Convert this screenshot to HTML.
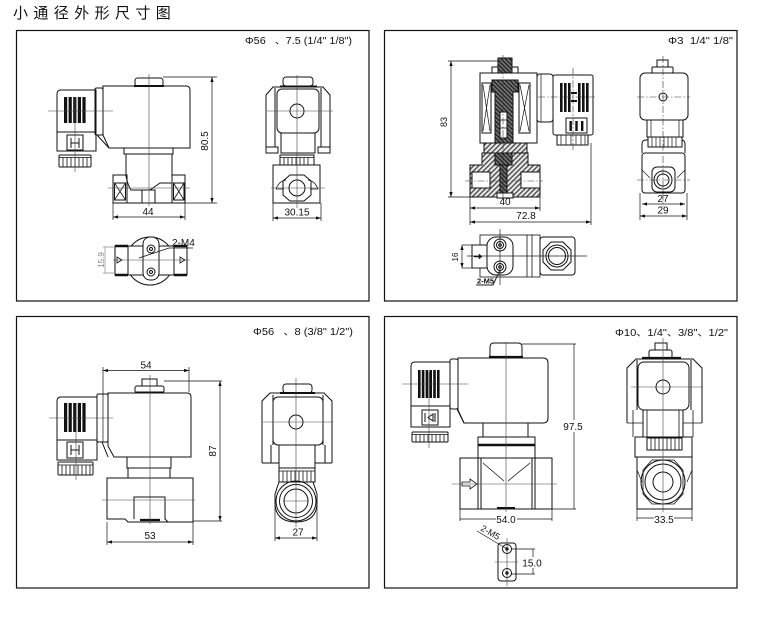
<!DOCTYPE html>
<html><head><meta charset="utf-8">
<style>
html,body{margin:0;padding:0;background:#fff;}
svg{display:block}
text{font-family:"Liberation Sans","Noto Sans CJK SC",sans-serif;fill:#111;stroke:none}
</style></head><body>
<svg width="762" height="621" viewBox="0 0 762 621" xmlns="http://www.w3.org/2000/svg" font-family="'Liberation Sans','Noto Sans CJK SC',sans-serif">
<defs>
<pattern id="hat" width="3.5" height="3.5" patternUnits="userSpaceOnUse" patternTransform="rotate(45)"><rect width="3.5" height="3.5" fill="#e8e8e8"/><rect width="1.3" height="3.5" fill="#444"/></pattern>
<pattern id="hat2" width="3" height="3" patternUnits="userSpaceOnUse" patternTransform="rotate(-45)"><rect width="3" height="3" fill="#777"/><rect width="1.4" height="3" fill="#222"/></pattern>
<marker id="ar" viewBox="0 0 6 4" refX="6" refY="2" markerWidth="5" markerHeight="3.4" orient="auto-start-reverse" markerUnits="userSpaceOnUse"><path d="M0,0L6,2L0,4Z" fill="#111"/></marker>
</defs>

<text x="13" y="18" font-size="15" letter-spacing="5.4" font-family="'Liberation Sans','Noto Sans CJK SC',sans-serif">小通径外形尺寸图</text>

<g fill="none" stroke="#111" stroke-width="1">
<!-- panel borders -->
<rect x="16.5" y="30.5" width="352.5" height="270.5" stroke-width="1.2"/>
<rect x="384.5" y="30.5" width="352.5" height="270.5" stroke-width="1.2"/>
<rect x="16.5" y="316.5" width="352.5" height="271.5" stroke-width="1.2"/>
<rect x="384.5" y="316.5" width="352.5" height="271.5" stroke-width="1.2"/>

<!-- ================= TOP-LEFT ================= -->
<rect x="135" y="78" width="28" height="8" rx="2.5"/>
<line x1="134" y1="86" x2="164" y2="86" stroke-width="2"/>
<path d="M103,86H186Q190,86 190,90V148H109L103,135Z"/>
<rect x="95" y="88" width="8" height="47" rx="1.5"/>
<line x1="97" y1="135" x2="109" y2="148"/>
<path d="M96,90H61Q57,90 57,94V151H96Z"/>
<line x1="57" y1="132" x2="96" y2="132"/>
<g fill="#111" stroke="none">
<rect x="64" y="97" width="3.2" height="26"/><rect x="68.6" y="97" width="3.2" height="26"/><rect x="73.2" y="97" width="3.2" height="26"/><rect x="77.8" y="97" width="3.2" height="26"/><rect x="82.4" y="97" width="3.2" height="26"/>
</g>
<rect x="67" y="135" width="16" height="15"/>
<path d="M71,138V148M79,138V148M71,143H79"/>
<rect x="59" y="155" width="32" height="12" rx="1"/>
<path d="M59,157.5H91M63,157.5V167M67,157.5V167M71,157.5V167M75,157.5V167M79,157.5V167M83,157.5V167M87,157.5V167" stroke-width="0.8"/>
<rect x="124" y="148" width="49" height="6"/>
<path d="M126,154V176Q128,186 131,190H142M172,154V183H160L150,190"/>
<rect x="113" y="175" width="14" height="28"/>
<rect x="172" y="175" width="13" height="28"/>
<rect x="114.5" y="183" width="11" height="17"/>
<path d="M114.5,183L125.5,200M125.5,183L114.5,200" stroke-width="0.8"/>
<rect x="173.5" y="183" width="10.5" height="17"/>
<path d="M173.5,183L184,200M184,183L173.5,200" stroke-width="0.8"/>
<line x1="127" y1="203" x2="172" y2="203"/>
<path d="M142,203V190H155V203"/>
<g stroke="#444" stroke-width="0.6">
<line x1="149" y1="74" x2="149" y2="206"/>
<line x1="108" y1="188" x2="190" y2="188"/>
<line x1="48" y1="111" x2="113" y2="111"/>
<line x1="75" y1="97" x2="75" y2="172"/>
</g>
<g stroke-width="0.7">
<path d="M163,77H217M185,203H217M113,203V220M185,203V220"/>
<line x1="212" y1="77" x2="212" y2="203" marker-start="url(#ar)" marker-end="url(#ar)"/>
<line x1="113" y1="217" x2="185" y2="217" marker-start="url(#ar)" marker-end="url(#ar)"/>
</g>
<text x="208" y="141" font-size="10" text-anchor="middle" transform="rotate(-90 208 141)">80.5</text>
<text x="148" y="215" font-size="10" text-anchor="middle">44</text>

<!-- side view -->
<rect x="283" y="77" width="30" height="9" rx="3"/>
<line x1="280" y1="86.5" x2="317" y2="86.5" stroke-width="2"/>
<path d="M266,147V95L273,87H323L330,95V147"/>
<path d="M275,88V147M321,88V147"/>
<rect x="277" y="89" width="42" height="44" rx="5"/>
<circle cx="297" cy="111" r="7"/>
<rect x="281" y="133" width="34" height="20"/>
<rect x="266" y="147" width="12" height="6"/>
<rect x="318" y="147" width="12" height="6"/>
<rect x="280" y="155" width="34" height="10"/>
<path d="M280,157.5H314M284,157.5V165M288,157.5V165M292,157.5V165M296,157.5V165M300,157.5V165M304,157.5V165M308,157.5V165" stroke-width="0.8"/>
<rect x="273" y="165" width="47" height="38"/>
<path d="M290,175H304L311,181V195L304,201H290L283,195V181Z"/>
<circle cx="297" cy="188" r="8"/>
<path d="M276,189Q279,181 286,180M318,189Q315,181 308,180M276,189H284M310,189H318" stroke-width="0.8"/>
<g stroke="#444" stroke-width="0.6">
<line x1="297" y1="75" x2="297" y2="208"/>
<line x1="267" y1="111" x2="333" y2="111"/>
<line x1="271" y1="188" x2="325" y2="188"/>
</g>
<g stroke-width="0.7">
<path d="M273,203V221M321,203V221"/>
<line x1="273" y1="218" x2="321" y2="218" marker-start="url(#ar)" marker-end="url(#ar)"/>
</g>
<text x="297" y="215.5" font-size="10" text-anchor="middle">30.15</text>

<!-- bottom view -->
<circle cx="150" cy="261" r="24"/>
<rect x="115" y="246" width="72" height="29" fill="#fff"/>
<path d="M115,246H128M115,275H128M174,246H187M174,275H187" stroke-width="2.4"/>
<path d="M128,246V275M174,246V275"/>
<rect x="143" y="237" width="16" height="43" rx="7" fill="#fff"/>
<circle cx="151" cy="249" r="4"/><circle cx="151" cy="249" r="1.5"/>
<circle cx="151" cy="272" r="4"/><circle cx="151" cy="272" r="1.5"/>
<path d="M117,257L122,260L117,263Z M180,257L185,260L180,263Z" stroke-width="0.8"/>
<line x1="113" y1="260" x2="190" y2="260" stroke="#444" stroke-width="0.6"/>
<path d="M139,258L169,248H193" stroke-width="0.8"/>
<g stroke="#888" stroke-width="0.7">
<path d="M103,247H115M103,273H115"/>
<line x1="105" y1="247" x2="105" y2="273"/>
</g>
<text x="172" y="246" font-size="10">2-M4</text>
<text x="104" y="260" font-size="8" text-anchor="middle" style="fill:#888" transform="rotate(-90 104 260)">15.9</text>

<text x="245" y="44" font-size="10" textLength="107" lengthAdjust="spacingAndGlyphs" xml:space="preserve">Φ56   、7.5 (1/4" 1/8")</text>

<!-- ================= TOP-RIGHT ================= -->
<text x="668" y="44" font-size="10" textLength="65" lengthAdjust="spacingAndGlyphs" xml:space="preserve">Φ3  1/4" 1/8"</text>
<rect x="492" y="67" width="26" height="6" fill="#fff"/>
<rect x="498" y="58" width="14" height="20" fill="url(#hat2)"/>
<rect x="480" y="73" width="57" height="70" fill="#fff"/>
<rect x="482" y="83" width="9" height="50"/>
<path d="M483,85L490,131M490,85L483,131" stroke-width="0.7"/>
<rect x="519" y="83" width="11" height="50"/>
<path d="M520,85L529,131M529,85L520,131" stroke-width="0.7"/>
<path d="M492,80H518V92H513V160H495V92H492Z" fill="url(#hat2)"/>
<rect x="500" y="112" width="7" height="26" fill="#fff"/>
<path d="M500,120H507M500,128H507" stroke-width="0.7"/>
<path d="M484,143H527V153H484Z" fill="url(#hat)"/>
<path d="M482,153H528V165H540V197H470V165H482Z" fill="url(#hat)"/>
<rect x="472" y="172" width="18" height="16" fill="#fff"/>
<rect x="521" y="172" width="19" height="16" fill="#fff"/>
<rect x="495" y="153" width="17" height="12" fill="url(#hat2)"/>
<rect x="500" y="165" width="7" height="32" fill="url(#hat2)"/>
<rect x="497" y="193" width="16" height="5" fill="#fff"/>
<rect x="537" y="74" width="16" height="48" rx="3"/>
<path d="M541,74V122" stroke-width="0.7"/>
<rect x="553" y="75" width="40" height="60" rx="2"/>
<g fill="#111" stroke="none">
<rect x="560" y="83" width="2.6" height="29"/><rect x="564" y="83" width="2.6" height="29"/><rect x="568" y="83" width="2.6" height="29"/><rect x="578" y="83" width="2.6" height="29"/><rect x="582" y="83" width="2.6" height="29"/><rect x="586" y="83" width="2.6" height="29"/>
<rect x="571" y="92" width="6" height="2"/><rect x="571" y="100" width="6" height="2"/>
</g>
<rect x="566" y="118" width="21" height="15"/>
<g fill="#111" stroke="none"><rect x="569.5" y="121" width="2.4" height="10"/><rect x="575.3" y="121" width="2.4" height="10"/><rect x="581" y="121" width="2.4" height="10"/></g>
<rect x="557" y="135" width="31" height="10"/>
<path d="M561,135V145M566,135V145M571,135V145M576,135V145M581,135V145M585,135V145" stroke-width="0.7"/>
<g stroke="#333" stroke-width="0.6" stroke-dasharray="7,2,1.5,2">
<line x1="465" y1="181" x2="543" y2="181"/>
<line x1="503" y1="55" x2="503" y2="200"/>
<line x1="538" y1="97" x2="597" y2="97"/>
<line x1="573" y1="68" x2="573" y2="150"/>
</g>
<g stroke-width="0.7">
<path d="M448,61H500M448,197H471M470,197V225M540,197V211M591,143V225"/>
<line x1="451" y1="61" x2="451" y2="197" marker-start="url(#ar)" marker-end="url(#ar)"/>
<line x1="470" y1="208" x2="540" y2="208" marker-start="url(#ar)" marker-end="url(#ar)"/>
<line x1="470" y1="222" x2="591" y2="222" marker-start="url(#ar)" marker-end="url(#ar)"/>
</g>
<text x="447" y="122" font-size="9" text-anchor="middle" transform="rotate(-90 447 122)">83</text>
<text x="505" y="205" font-size="10" text-anchor="middle">40</text>
<text x="526" y="219" font-size="10" text-anchor="middle">72.8</text>

<rect x="657" y="60" width="11" height="7"/>
<rect x="652" y="67" width="21" height="6" rx="1"/>
<rect x="640" y="73" width="48" height="47" rx="5"/>
<circle cx="663" cy="97" r="4"/>
<rect x="647" y="120" width="36" height="17"/>
<path d="M651,120V137M679,120V137" stroke-width="0.7"/>
<path d="M642,153V144Q642,140 646,140H681Q685,140 685,144V153"/>
<rect x="648" y="137" width="34" height="10" fill="#fff"/>
<path d="M652,137V147M656,137V147M660,137V147M664,137V147M668,137V147M672,137V147M676,137V147" stroke-width="0.7"/>
<rect x="642" y="153" width="43" height="40" rx="3"/>
<rect x="652" y="167" width="23" height="25" rx="5"/>
<path d="M642,170L650,178M685,170L677,178" stroke-width="0.7"/>
<circle cx="663" cy="180" r="9"/>
<circle cx="663" cy="180" r="6"/>
<g stroke="#333" stroke-width="0.6" stroke-dasharray="7,2,1.5,2">
<line x1="637" y1="97" x2="690" y2="97"/>
<line x1="637" y1="180" x2="690" y2="180"/>
<line x1="663" y1="56" x2="663" y2="207"/>
</g>
<g stroke-width="0.7">
<path d="M640,193V220M687,193V220"/>
<line x1="642" y1="204" x2="685" y2="204" marker-start="url(#ar)" marker-end="url(#ar)"/>
<line x1="640" y1="216" x2="687" y2="216" marker-start="url(#ar)" marker-end="url(#ar)"/>
</g>
<text x="663" y="202" font-size="10" text-anchor="middle">27</text>
<text x="663" y="213.5" font-size="10" text-anchor="middle">29</text>

<rect x="480" y="235" width="60" height="42" stroke-width="0.8"/>
<path d="M527,235V277M532,235V277" stroke-width="0.8"/>
<rect x="472" y="245" width="15" height="23" fill="#fff"/>
<rect x="487" y="237" width="26" height="38" rx="9" fill="#fff"/>
<circle cx="500" cy="245" r="6"/><circle cx="500" cy="245" r="3.5"/><circle cx="500" cy="245" r="1.3"/>
<circle cx="500" cy="267" r="6"/><circle cx="500" cy="267" r="3.5"/><circle cx="500" cy="267" r="1.3"/>
<rect x="540" y="237" width="35" height="38" rx="3"/>
<path d="M551,242H563L571,250V262L563,270H551L543,262V250Z"/>
<circle cx="557" cy="256" r="11"/>
<circle cx="557" cy="256" r="8.5"/>
<path d="M474,256H479V254L482,256.5L479,259V257H474Z" fill="#111" stroke-width="0.5"/>
<g stroke="#222" stroke-width="0.7">
<line x1="467" y1="256" x2="587" y2="256"/>
<line x1="500" y1="229" x2="500" y2="285"/>
<path d="M462,245H480M462,268H480"/>
<line x1="462" y1="245" x2="462" y2="268" marker-start="url(#ar)" marker-end="url(#ar)"/>
<path d="M476,285H493L500,270" stroke-width="1"/>
</g>
<text x="458" y="257" font-size="8" text-anchor="middle" transform="rotate(-90 458 257)">16</text>
<text x="477" y="283.5" font-size="7.5" font-weight="bold">2-M5</text>

<!-- ================= BOTTOM-LEFT ================= -->
<text x="253" y="335" font-size="10" textLength="100" lengthAdjust="spacingAndGlyphs" xml:space="preserve">Φ56   、8 (3/8" 1/2")</text>
<rect x="142" y="379" width="15" height="7"/>
<rect x="135" y="386" width="29" height="7" rx="2"/>
<line x1="135" y1="392.5" x2="164" y2="392.5" stroke-width="2"/>
<path d="M108,393H187Q191,393 191,397V457H114L108,446Z"/>
<rect x="97" y="394" width="11" height="48" rx="1.5"/>
<line x1="102" y1="442" x2="108" y2="457"/>
<path d="M97,397H61Q57,397 57,401V460H97Z"/>
<line x1="57" y1="440" x2="97" y2="440"/>
<g fill="#111" stroke="none">
<rect x="64" y="403" width="3.2" height="29"/><rect x="68.6" y="403" width="3.2" height="29"/><rect x="73.2" y="403" width="3.2" height="29"/><rect x="77.8" y="403" width="3.2" height="29"/><rect x="82.4" y="403" width="3.2" height="29"/>
</g>
<rect x="67" y="442" width="16" height="16"/>
<path d="M71,445V455M79,445V455M71,450H79"/>
<rect x="58" y="462" width="35" height="13" rx="1"/>
<path d="M58,465H93M62,465V475M66,465V475M70,465V475M74,465V475M78,465V475M82,465V475M86,465V475M90,465V475" stroke-width="0.8"/>
<rect x="127" y="457" width="44" height="11"/>
<rect x="128" y="468" width="42" height="10"/>
<path d="M107,478H193V522H128L125,519H107ZM193,522H168"/>
<path d="M107,478V519"/>
<path d="M134,519V497H165V519L168,522"/>
<line x1="140" y1="520" x2="160" y2="520" stroke-width="2.2"/>
<g stroke="#444" stroke-width="0.6">
<line x1="150" y1="375" x2="150" y2="524"/>
<line x1="102" y1="500" x2="195" y2="500"/>
<line x1="49" y1="418" x2="113" y2="418"/>
<line x1="76" y1="405" x2="76" y2="480"/>
</g>
<g stroke-width="0.7">
<path d="M103,367V442M189,367V392M164,381H222M193,521H222M107,522V545M193,522V545"/>
<line x1="103" y1="370.5" x2="189" y2="370.5" marker-start="url(#ar)" marker-end="url(#ar)"/>
<line x1="220" y1="381" x2="220" y2="521" marker-start="url(#ar)" marker-end="url(#ar)"/>
<line x1="107" y1="542" x2="193" y2="542" marker-start="url(#ar)" marker-end="url(#ar)"/>
</g>
<text x="146" y="368.5" font-size="10" text-anchor="middle">54</text>
<text x="216" y="451" font-size="10" text-anchor="middle" transform="rotate(-90 216 451)">87</text>
<text x="150" y="539" font-size="10" text-anchor="middle">53</text>

<rect x="283" y="384" width="29" height="9" rx="3"/>
<line x1="280" y1="393" x2="315" y2="393" stroke-width="2"/>
<path d="M262,463V401L270,393H324L332,401V463"/>
<path d="M273,395V445M323,395V445"/>
<rect x="273" y="397" width="50" height="48" rx="5"/>
<circle cx="296" cy="422" r="7"/>
<rect x="279" y="445" width="36" height="23"/>
<path d="M262,463H279M315,463H332M271,445V463M325,445V463"/>
<rect x="279" y="468" width="36" height="14"/>
<path d="M279,471H315M283,471V482M287,471V482M291,471V482M295,471V482M299,471V482M303,471V482M307,471V482M311,471V482" stroke-width="0.8"/>
<path d="M279,482L275,494V504Q276,522 296,522Q316,522 317,504V494L313,482"/>
<circle cx="296" cy="501" r="20"/>
<circle cx="296" cy="501" r="16.5"/>
<circle cx="296" cy="501" r="12"/>
<g stroke="#444" stroke-width="0.6">
<line x1="263" y1="422" x2="333" y2="422"/>
<line x1="296" y1="378" x2="296" y2="527"/>
<line x1="283" y1="501" x2="309" y2="501"/>
</g>
<g stroke-width="0.7">
<path d="M275,505V541M317,505V541"/>
<line x1="275" y1="538" x2="317" y2="538" marker-start="url(#ar)" marker-end="url(#ar)"/>
</g>
<text x="298" y="535.5" font-size="10" text-anchor="middle">27</text>

<!-- ================= BOTTOM-RIGHT ================= -->
<text x="615" y="336" font-size="10" textLength="113" lengthAdjust="spacingAndGlyphs">Φ10、1/4"、3/8"、1/2"</text>
<path d="M490,358V347Q490,343 494,343H518Q522,343 522,347V358"/>
<line x1="489" y1="357" x2="523" y2="357" stroke-width="2.2"/>
<path d="M458,358H543Q548,358 548,363V418Q548,423 543,423H464L458,410Z"/>
<rect x="450" y="359" width="8" height="50" rx="2"/>
<line x1="457" y1="409" x2="464" y2="423"/>
<path d="M450,362H415Q411,362 411,366V427H450Z"/>
<line x1="411" y1="406" x2="450" y2="406"/>
<g fill="#111" stroke="none">
<rect x="418" y="370" width="2.6" height="28"/><rect x="421.8" y="370" width="2.6" height="28"/><rect x="425.6" y="370" width="2.6" height="28"/><rect x="429.4" y="370" width="2.6" height="28"/><rect x="433.2" y="370" width="2.6" height="28"/><rect x="437" y="370" width="2.6" height="28"/>
</g>
<rect x="422" y="410" width="16" height="15"/>
<path d="M425,413V422M435,413V422M433,414L428,417.5L433,421Z"/>
<rect x="412" y="432" width="36" height="10" rx="1"/>
<path d="M412,434.5H448M416,434.5V442M420,434.5V442M424,434.5V442M428,434.5V442M432,434.5V442M436,434.5V442M440,434.5V442M444,434.5V442" stroke-width="0.8"/>
<rect x="483" y="423" width="45" height="14"/>
<rect x="478" y="437" width="57" height="21"/>
<line x1="478" y1="445" x2="535" y2="445" stroke-width="2.4"/>
<rect x="460" y="458" width="92" height="51"/>
<path d="M478,458V509M481,458V509M532,458V509M535,458V509"/>
<path d="M483,463L504,481M530,463L508,481" stroke-width="0.8"/>
<line x1="497" y1="508" x2="515" y2="508" stroke-width="2"/>
<path d="M462,482H470V479L477,484L470,489V486H462Z" stroke-width="0.8"/>
<g stroke="#444" stroke-width="0.6">
<line x1="452" y1="484" x2="557" y2="484"/>
<line x1="506" y1="342" x2="506" y2="512"/>
<line x1="402" y1="384" x2="468" y2="384"/>
<line x1="429" y1="372" x2="429" y2="448"/>
</g>
<g stroke-width="0.7">
<path d="M522,344H576M552,509H576M460,509V521M552,509V521"/>
<line x1="574" y1="344" x2="574" y2="509"/>
<line x1="460" y1="519" x2="552" y2="519"/>
</g>
<rect x="563" y="420" width="22" height="12" fill="#fff" stroke="none"/>
<text x="573" y="430" font-size="10" text-anchor="middle">97.5</text>
<rect x="496" y="514" width="21" height="11" fill="#fff" stroke="none"/>
<text x="506" y="523" font-size="10" text-anchor="middle">54.0</text>

<rect x="655" y="343" width="12" height="7"/>
<rect x="649" y="350" width="23" height="8" rx="2"/>
<line x1="642" y1="358" x2="681" y2="358" stroke-width="2.2"/>
<path d="M627,423V368L636,359H693L702,368V423"/>
<path d="M637,360V410M691,360V410"/>
<rect x="638" y="362" width="51" height="48" rx="6"/>
<circle cx="663" cy="387" r="7"/>
<rect x="643" y="410" width="40" height="27"/>
<path d="M627,423H643M683,423H702M633,410V437M693,410V437M647,410V437M679,410V437" stroke-width="0.8"/>
<rect x="635" y="437" width="57" height="20"/>
<rect x="647" y="438" width="35" height="12"/>
<path d="M651,438V450M655,438V450M659,438V450M663,438V450M667,438V450M671,438V450M675,438V450M679,438V450" stroke-width="0.8"/>
<rect x="637" y="457" width="55" height="52"/>
<path d="M652,460H674L683,470V494L674,504H652L643,494V470Z" stroke-width="0.8"/>
<circle cx="663" cy="482" r="22"/>
<circle cx="663" cy="482" r="18"/>
<circle cx="663" cy="482" r="10"/>
<path d="M637,470L642,482M692,470L687,482" stroke-width="0.7"/>
<g stroke="#444" stroke-width="0.6">
<line x1="631" y1="387" x2="703" y2="387"/>
<line x1="663" y1="338" x2="663" y2="512"/>
</g>
<g stroke-width="0.7">
<path d="M637,509V521M692,509V521"/>
<line x1="637" y1="518" x2="692" y2="518"/>
</g>
<rect x="654" y="514" width="20" height="11" fill="#fff" stroke="none"/>
<text x="664" y="523" font-size="10" text-anchor="middle">33.5</text>

<rect x="498" y="543" width="18" height="38" rx="3"/>
<circle cx="507" cy="549" r="4.5"/><circle cx="507" cy="549" r="1.2" fill="#111"/>
<circle cx="507" cy="573" r="4.5"/><circle cx="507" cy="573" r="1.2" fill="#111"/>
<g stroke="#444" stroke-width="0.6">
<line x1="495" y1="562" x2="518" y2="562"/>
<line x1="507" y1="538" x2="507" y2="586"/>
</g>
<g stroke-width="0.7">
<path d="M511,549H535M511,574H535M533,549V574"/>
<line x1="477" y1="531" x2="507" y2="549"/>
</g>
<rect x="522" y="557" width="21" height="11" fill="#fff" stroke="none"/>
<text x="532" y="566.5" font-size="10" text-anchor="middle">15.0</text>
<text x="480" y="530" font-size="9" transform="rotate(30 480 530)">2-M5</text>
</g>
</svg>
</body></html>
